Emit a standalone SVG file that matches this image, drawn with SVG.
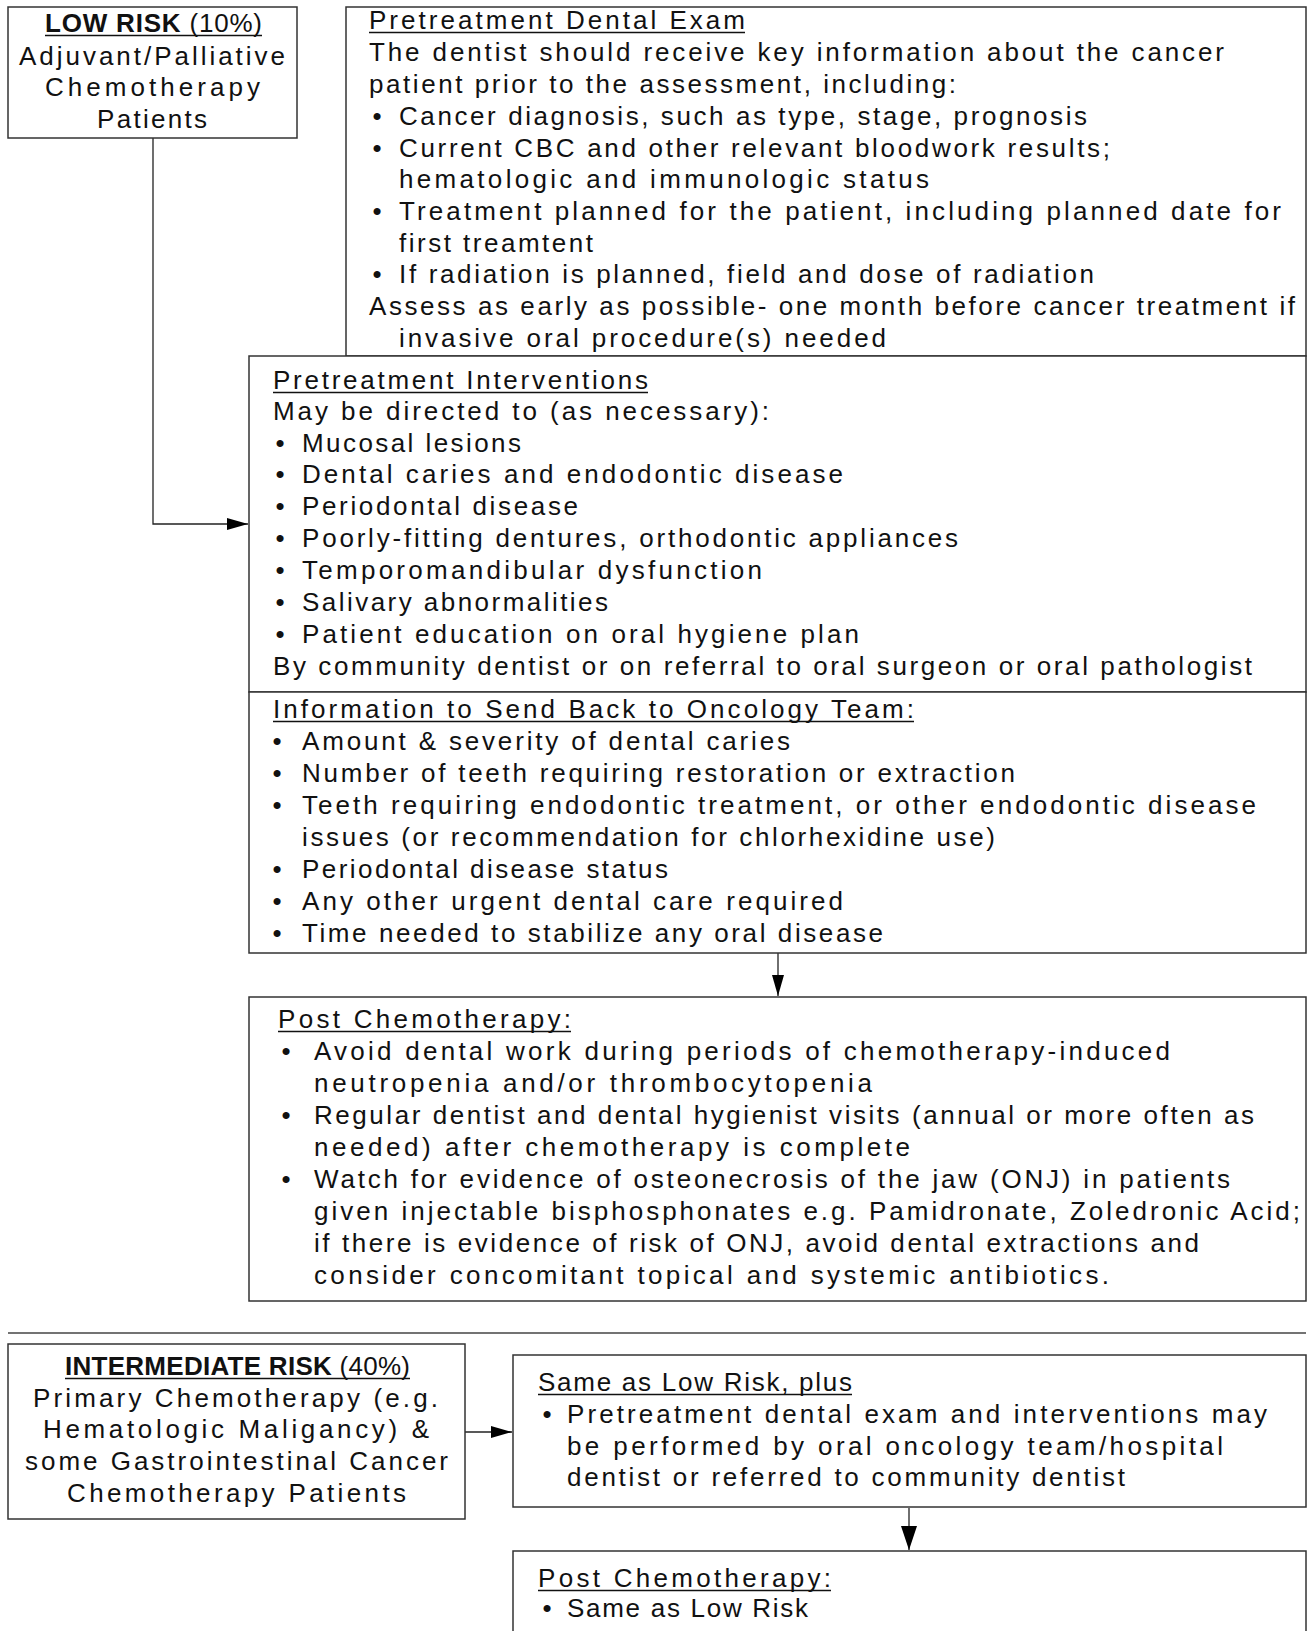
<svg xmlns="http://www.w3.org/2000/svg" width="1307" height="1631" viewBox="0 0 1307 1631">
<style>
.t{font-family:"Liberation Sans",Arial,sans-serif;font-size:26px;fill:#111;}
.b{font-weight:bold;}
.bl{text-anchor:middle;}
.ul{stroke:#111;stroke-width:1.4;fill:none;}
.box{fill:#fff;stroke:#333;stroke-width:1.5;}
.conn{fill:none;stroke:#222;stroke-width:1.3;}
.sep{fill:none;stroke:#444;stroke-width:1.5;}
</style>
<defs>
<marker id="ah" markerUnits="userSpaceOnUse" viewBox="0 0 21 12" refX="21" refY="6" markerWidth="21" markerHeight="12" orient="auto"><path d="M0,0 L21,6 L0,12 z" fill="#000"/></marker>
<marker id="ahL" markerUnits="userSpaceOnUse" viewBox="0 0 24 16" refX="24" refY="8" markerWidth="24" markerHeight="16" orient="auto"><path d="M0,0 L24,8 L0,16 z" fill="#000"/></marker>
</defs>
<rect width="1307" height="1631" fill="#fff"/>

<g id="connectors">
<path class="conn" d="M153,138 V524 H248" marker-end="url(#ah)"/>
<path class="conn" d="M778,953 V996" marker-end="url(#ah)"/>
<path class="conn" d="M465,1432 H512" marker-end="url(#ah)"/>
<path class="conn" d="M909,1508 V1550" marker-end="url(#ahL)"/>
<path class="sep" d="M8,1333 H1306"/>
</g>

<g id="low-risk">
<rect class="box" x="8" y="7" width="289" height="131"/>
<text class="t" x="45" y="32" textLength="217"><tspan class="b">LOW RISK</tspan> (10%)</text>
<path class="ul" d="M45,35.5 H262"/>
<text class="t" x="19" y="65" textLength="266">Adjuvant/Palliative</text>
<text class="t" x="45" y="96" textLength="215">Chemotherapy</text>
<text class="t" x="97" y="128" textLength="110">Patients</text>
</g>

<g id="dental-exam">
<rect class="box" x="346" y="7" width="960" height="349"/>
<text class="t" x="369" y="29" textLength="376">Pretreatment Dental Exam</text>
<path class="ul" d="M369,32.5 H745"/>
<text class="t" x="369" y="61" textLength="855">The dentist should receive key information about the cancer</text>
<text class="t" x="369" y="93" textLength="587">patient prior to the assessment, including:</text>
<text class="t bl" x="377" y="125">•</text>
<text class="t" x="399" y="125" textLength="688">Cancer diagnosis, such as type, stage, prognosis</text>
<text class="t bl" x="377" y="157">•</text>
<text class="t" x="399" y="157" textLength="711">Current CBC and other relevant bloodwork results;</text>
<text class="t" x="399" y="188" textLength="530">hematologic and immunologic status</text>
<text class="t bl" x="377" y="220">•</text>
<text class="t" x="399" y="220" textLength="882">Treatment planned for the patient, including planned date for</text>
<text class="t" x="399" y="252" textLength="194">first treamtent</text>
<text class="t bl" x="377" y="283">•</text>
<text class="t" x="399" y="283" textLength="695">If radiation is planned, field and dose of radiation</text>
<text class="t" x="369" y="315" textLength="926">Assess as early as possible- one month before cancer treatment if</text>
<text class="t" x="399" y="347" textLength="487">invasive oral procedure(s) needed</text>
</g>

<g id="interventions">
<rect class="box" x="249" y="356" width="1057" height="336"/>
<text class="t" x="273" y="389" textLength="375">Pretreatment Interventions</text>
<path class="ul" d="M273,392.5 H648"/>
<text class="t" x="273" y="420" textLength="496">May be directed to (as necessary):</text>
<text class="t bl" x="280" y="452">•</text>
<text class="t" x="302" y="452" textLength="219">Mucosal lesions</text>
<text class="t bl" x="280" y="483">•</text>
<text class="t" x="302" y="483" textLength="541">Dental caries and endodontic disease</text>
<text class="t bl" x="280" y="515">•</text>
<text class="t" x="302" y="515" textLength="276">Periodontal disease</text>
<text class="t bl" x="280" y="547">•</text>
<text class="t" x="302" y="547" textLength="656">Poorly-fitting dentures, orthodontic appliances</text>
<text class="t bl" x="280" y="579">•</text>
<text class="t" x="302" y="579" textLength="460">Temporomandibular dysfunction</text>
<text class="t bl" x="280" y="611">•</text>
<text class="t" x="302" y="611" textLength="306">Salivary abnormalities</text>
<text class="t bl" x="280" y="643">•</text>
<text class="t" x="302" y="643" textLength="557">Patient education on oral hygiene plan</text>
<text class="t" x="273" y="675" textLength="979">By community dentist or on referral to oral surgeon or oral pathologist</text>
</g>

<g id="info-back">
<rect class="box" x="249" y="692" width="1057" height="261"/>
<text class="t" x="273" y="718" textLength="641">Information to Send Back to Oncology Team:</text>
<path class="ul" d="M273,721.5 H914"/>
<text class="t bl" x="277" y="750">•</text>
<text class="t" x="302" y="750" textLength="488">Amount &amp; severity of dental caries</text>
<text class="t bl" x="277" y="782">•</text>
<text class="t" x="302" y="782" textLength="713">Number of teeth requiring restoration or extraction</text>
<text class="t bl" x="277" y="814">•</text>
<text class="t" x="302" y="814" textLength="954">Teeth requiring endodontic treatment, or other endodontic disease</text>
<text class="t" x="302" y="846" textLength="693">issues (or recommendation for chlorhexidine use)</text>
<text class="t bl" x="277" y="878">•</text>
<text class="t" x="302" y="878" textLength="366">Periodontal disease status</text>
<text class="t bl" x="277" y="910">•</text>
<text class="t" x="302" y="910" textLength="541">Any other urgent dental care required</text>
<text class="t bl" x="277" y="942">•</text>
<text class="t" x="302" y="942" textLength="581">Time needed to stabilize any oral disease</text>
</g>

<g id="post-chemo-low">
<rect class="box" x="249" y="997" width="1057" height="304"/>
<text class="t" x="278" y="1028" textLength="293">Post Chemotherapy:</text>
<path class="ul" d="M278,1031.5 H571"/>
<text class="t bl" x="286" y="1060">•</text>
<text class="t" x="314" y="1060" textLength="856">Avoid dental work during periods of chemotherapy-induced</text>
<text class="t" x="314" y="1092" textLength="558">neutropenia and/or thrombocytopenia</text>
<text class="t bl" x="286" y="1124">•</text>
<text class="t" x="314" y="1124" textLength="940">Regular dentist and dental hygienist visits (annual or more often as</text>
<text class="t" x="314" y="1156" textLength="596">needed) after chemotherapy is complete</text>
<text class="t bl" x="286" y="1188">•</text>
<text class="t" x="314" y="1188" textLength="916">Watch for evidence of osteonecrosis of the jaw (ONJ) in patients</text>
<text class="t" x="314" y="1220" textLength="986">given injectable bisphosphonates e.g. Pamidronate, Zoledronic Acid;</text>
<text class="t" x="314" y="1252" textLength="885">if there is evidence of risk of ONJ, avoid dental extractions and</text>
<text class="t" x="314" y="1284" textLength="795">consider concomitant topical and systemic antibiotics.</text>
</g>

<g id="intermediate-risk">
<rect class="box" x="8" y="1344" width="457" height="175"/>
<text class="t" x="65" y="1375" textLength="345"><tspan class="b">INTERMEDIATE RISK</tspan> (40%)</text>
<path class="ul" d="M65,1378.5 H410"/>
<text class="t" x="33" y="1407" textLength="405">Primary Chemotherapy (e.g.</text>
<text class="t" x="43" y="1438" textLength="386">Hematologic Maligancy) &amp;</text>
<text class="t" x="25" y="1470" textLength="423">some Gastrointestinal Cancer</text>
<text class="t" x="67" y="1502" textLength="339">Chemotherapy Patients</text>
</g>

<g id="same-as-low">
<rect class="box" x="513" y="1355" width="793" height="152"/>
<text class="t" x="538" y="1391" textLength="314">Same as Low Risk, plus</text>
<path class="ul" d="M538,1394.5 H852"/>
<text class="t bl" x="547" y="1423">•</text>
<text class="t" x="567" y="1423" textLength="700">Pretreatment dental exam and interventions may</text>
<text class="t" x="567" y="1455" textLength="656">be performed by oral oncology team/hospital</text>
<text class="t" x="567" y="1486" textLength="558">dentist or referred to community dentist</text>
</g>

<g id="post-chemo-intermediate">
<rect class="box" x="513" y="1551" width="793" height="120"/>
<text class="t" x="538" y="1587" textLength="293">Post Chemotherapy:</text>
<path class="ul" d="M538,1590.5 H831"/>
<text class="t bl" x="547" y="1617">•</text>
<text class="t" x="567" y="1617" textLength="241">Same as Low Risk</text>
</g>
</svg>
